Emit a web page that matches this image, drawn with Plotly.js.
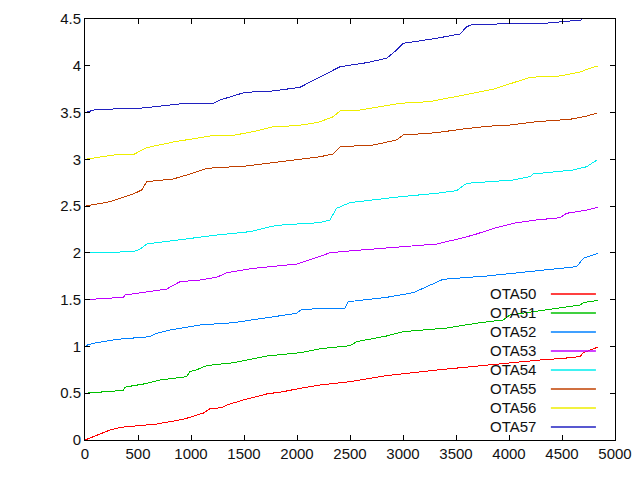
<!DOCTYPE html>
<html>
<head>
<meta charset="utf-8">
<script src="https://cdn.plot.ly/plotly-3.0.1.min.js"></script>
<style>
  html, body { margin: 0; padding: 0; background: #fff; }
  #chart { width: 640px; height: 480px; }
  /* aliased 1px strokes, like gnuplot's png terminal */
  #chart path.js-line, #chart path.xlines-above, #chart path.ylines-above,
  #chart path.xtick, #chart path.ytick { shape-rendering: crispEdges; }
</style>
</head>
<body>
<div id="chart"></div>
<script>
/* ─── Series data ──────────────────────────────────────────────────────── */
const names = ["OTA50", "OTA51", "OTA52", "OTA53", "OTA54", "OTA55", "OTA56", "OTA57"];
const colors = ["#ff0000", "#00c000", "#0080ff", "#c000ff", "#00eeee", "#c04000", "#eeee00", "#2020c0"];

const ota50X = [0, 236, 330, 676, 927, 1116, 1180, 1290, 1337, 1494, 1714, 1871, 2028, 2217, 2500, 2846, 3318, 3726, 4292, 4512, 4670, 4701, 4843];
const ota50Y = [0, 0.107, 0.135, 0.171, 0.221, 0.288, 0.335, 0.345, 0.374, 0.428, 0.492, 0.517, 0.552, 0.588, 0.623, 0.688, 0.748, 0.795, 0.855, 0.873, 0.891, 0.933, 0.995];

const ota51X = [0, 361, 375, 550, 708, 959, 990, 1053, 1148, 1399, 1714, 2028, 2217, 2500, 2563, 2846, 3003, 3412, 3726, 3946, 4009, 4418, 4670, 4700, 4836];
const ota51Y = [0.5, 0.53, 0.565, 0.598, 0.641, 0.677, 0.73, 0.75, 0.795, 0.826, 0.898, 0.933, 0.975, 1.008, 1.051, 1.112, 1.158, 1.197, 1.254, 1.283, 1.336, 1.407, 1.443, 1.468, 1.492];

const ota52X = [0, 30, 110, 299, 613, 676, 802, 1085, 1399, 1714, 1997, 2044, 2217, 2453, 2484, 2846, 3097, 3223, 3380, 3790, 4167, 4639, 4701, 4843];
const ota52Y = [1.0, 1.02, 1.04, 1.076, 1.104, 1.14, 1.176, 1.229, 1.254, 1.308, 1.354, 1.397, 1.402, 1.41, 1.478, 1.525, 1.575, 1.639, 1.718, 1.753, 1.799, 1.853, 1.942, 1.996];

const ota53X = [0, 361, 380, 613, 771, 896, 1085, 1242, 1337, 1588, 1997, 2217, 2311, 2531, 2846, 3318, 3506, 3663, 3852, 4040, 4261, 4481, 4544, 4733, 4843];
const ota53Y = [1.5, 1.525, 1.55, 1.585, 1.614, 1.692, 1.71, 1.739, 1.788, 1.835, 1.881, 1.962, 2.002, 2.024, 2.052, 2.095, 2.145, 2.191, 2.26, 2.316, 2.352, 2.376, 2.423, 2.458, 2.49];

const ota54X = [0, 456, 519, 582, 927, 1242, 1557, 1777, 1871, 2217, 2311, 2374, 2500, 2689, 2972, 3318, 3506, 3601, 4040, 4198, 4229, 4607, 4733, 4833];
const ota54Y = [2.0, 2.013, 2.04, 2.095, 2.145, 2.191, 2.227, 2.287, 2.3, 2.323, 2.352, 2.477, 2.537, 2.565, 2.6, 2.637, 2.665, 2.744, 2.779, 2.815, 2.843, 2.886, 2.921, 2.995];

const ota55X = [0, 236, 456, 535, 582, 833, 990, 1148, 1525, 1777, 2123, 2217, 2343, 2406, 2720, 2940, 3003, 3318, 3538, 3790, 4009, 4261, 4576, 4733, 4833];
const ota55Y = [2.5, 2.547, 2.63, 2.672, 2.761, 2.79, 2.843, 2.904, 2.929, 2.968, 3.014, 3.028, 3.057, 3.135, 3.153, 3.207, 3.26, 3.285, 3.32, 3.353, 3.367, 3.402, 3.428, 3.463, 3.495];

const ota56X = [0, 267, 456, 582, 833, 1180, 1368, 1588, 1777, 1997, 2186, 2217, 2343, 2406, 2594, 2972, 3255, 3538, 3852, 4198, 4481, 4686, 4733, 4843];
const ota56Y = [3.0, 3.046, 3.05, 3.125, 3.185, 3.25, 3.25, 3.296, 3.349, 3.36, 3.392, 3.402, 3.456, 3.517, 3.527, 3.599, 3.617, 3.677, 3.749, 3.877, 3.891, 3.937, 3.962, 4.0];

const ota57X = [0, 110, 487, 896, 1211, 1274, 1509, 1777, 2028, 2217, 2406, 2657, 2846, 2940, 3003, 3318, 3538, 3601, 3663, 4324, 4481, 4686];
const ota57Y = [3.5, 3.535, 3.542, 3.592, 3.599, 3.634, 3.716, 3.731, 3.77, 3.884, 3.99, 4.033, 4.08, 4.169, 4.24, 4.294, 4.34, 4.418, 4.443, 4.453, 4.471, 4.49];

const seriesX = [ota50X, ota51X, ota52X, ota53X, ota54X, ota55X, ota56X, ota57X];
const seriesY = [ota50Y, ota51Y, ota52Y, ota53Y, ota54Y, ota55Y, ota56Y, ota57Y];

/* ─── Traces ───────────────────────────────────────────────────────────── */
const traces = names.map((n, i) => ({
  type: "scatter", mode: "lines", name: n,
  x: seriesX[i], y: seriesY[i],
  line: { color: colors[i], width: 1 },
  showlegend: false
}));

/* gnuplot-style key: label right-aligned, sample line to its right */
const keyTop = 0.3468, keyStep = 0.0451;
const annotations = names.map((n, i) => ({
  xref: "paper", yref: "paper", x: 0.855, y: keyTop - i * keyStep,
  xanchor: "right", yanchor: "middle", text: n, showarrow: false,
  font: { family: "Liberation Sans, Arial, sans-serif", size: 15, color: "#111" }
}));
const shapes = names.map((n, i) => ({
  type: "line", xref: "paper", yref: "paper",
  x0: 0.879, x1: 0.964, y0: keyTop - i * keyStep, y1: keyTop - i * keyStep,
  line: { color: colors[i], width: 1.5 }
}));

const axisBase = {
  showgrid: false, zeroline: false, showline: true, linecolor: "#000", linewidth: 1,
  mirror: "ticks", ticks: "inside", ticklen: 5, tickcolor: "#000",
  tickfont: { family: "Liberation Sans, Arial, sans-serif", size: 15, color: "#111" }
};

const layout = {
  width: 640, height: 480,
  margin: { l: 85, r: 25, t: 19, b: 40 },
  paper_bgcolor: "#fff", plot_bgcolor: "#fff",
  showlegend: false,
  xaxis: Object.assign({}, axisBase, { range: [0, 5000], dtick: 500, tick0: 0 }),
  yaxis: Object.assign({}, axisBase, { range: [0, 4.5], dtick: 0.5, tick0: 0 }),
  annotations: annotations,
  shapes: shapes
};

Plotly.newPlot("chart", traces, layout, { staticPlot: true, displayModeBar: false });
</script>
</body>
</html>
